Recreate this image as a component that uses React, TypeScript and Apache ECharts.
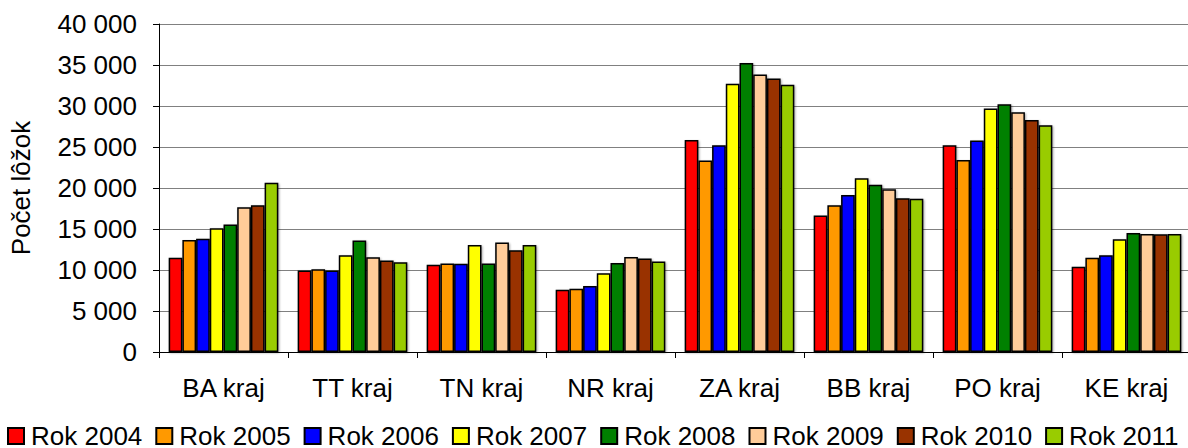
import React, { useEffect, useRef } from "react";
import * as echarts from "echarts";

const categories = ["BA kraj", "TT kraj", "TN kraj", "NR kraj", "ZA kraj", "BB kraj", "PO kraj", "KE kraj"];
const seriesNames = ["Rok 2004", "Rok 2005", "Rok 2006", "Rok 2007", "Rok 2008", "Rok 2009", "Rok 2010", "Rok 2011"];
const seriesColors = ["#FF0000", "#FF9900", "#0000FF", "#FFFF00", "#008000", "#FFCC99", "#993300", "#99CC00"];

const rok2004 = [11500, 9950, 10650, 7600, 25850, 16650, 25200, 10400];
const rok2005 = [13650, 10100, 10800, 7700, 23350, 17900, 23400, 11500];
const rok2006 = [13800, 9950, 10750, 8050, 25200, 19150, 25800, 11800];
const rok2007 = [15100, 11800, 13050, 9600, 32700, 21200, 29700, 13750];
const rok2008 = [15550, 13600, 10800, 10850, 35250, 20400, 30200, 14500];
const rok2009 = [17650, 11550, 13350, 11600, 33850, 19850, 29250, 14400];
const rok2010 = [17900, 11150, 12400, 11400, 33350, 18750, 28300, 14350];
const rok2011 = [20650, 10950, 13050, 11050, 32600, 18700, 27650, 14400];
const seriesValues = [rok2004, rok2005, rok2006, rok2007, rok2008, rok2009, rok2010, rok2011];

const yMin = 0;
const yMax = 40000;
const yInterval = 5000;
const yAxisTitle = "Počet lôžok";

const FONT = "'Liberation Sans', Arial, sans-serif";

function fmt(v: number): string {
  return String(v).replace(/\B(?=(\d{3})+(?!\d))/g, " ");
}

export default function App() {
  const ref = useRef<HTMLDivElement>(null);
  useEffect(() => {
    if (!ref.current) return;
    const chart = echarts.init(ref.current, null, { renderer: "svg" });
    chart.setOption({
      animation: false,
      backgroundColor: "#ffffff",
      textStyle: { fontFamily: FONT },
      grid: { left: 159, right: -3, top: 24, bottom: 96, containLabel: false, outerBoundsMode: "none" },
      legend: {
        left: 7,
        top: 423,
        width: 1200,
        padding: 0,
        itemWidth: 16,
        itemHeight: 16,
        itemGap: 13,
        icon: "rect",
        textStyle: { fontSize: 26, color: "#000", fontFamily: FONT, padding: [0, 0, 0, 2] },
        data: seriesNames,
      },
      xAxis: {
        type: "category",
        data: categories,
        axisLine: { lineStyle: { color: "#000", width: 1 } },
        axisTick: { show: true, alignWithLabel: false, length: 6, lineStyle: { color: "#000" } },
        axisLabel: { fontSize: 26, color: "#000", margin: 23, fontFamily: FONT },
      },
      yAxis: {
        type: "value",
        min: yMin,
        max: yMax,
        interval: yInterval,
        name: yAxisTitle,
        nameLocation: "middle",
        nameGap: 125,
        nameRotate: 90,
        nameTextStyle: { fontSize: 26, color: "#000", fontFamily: FONT },
        axisLine: { show: true, lineStyle: { color: "#000", width: 1 } },
        axisTick: { show: true, length: 6, lineStyle: { color: "#000" } },
        axisLabel: { fontSize: 26, color: "#000", margin: 22, fontFamily: FONT, formatter: (v: number) => fmt(v) },
        splitLine: { show: true, lineStyle: { color: "#808080", width: 1 } },
      },
      series: seriesNames.map((name, i) => ({
        name,
        type: "bar",
        data: seriesValues[i],
        barGap: "0%",
        barCategoryGap: "15%",
        itemStyle: {
          color: seriesColors[i],
          borderColor: "#000",
          borderWidth: 1.5,
          shadowColor: "rgba(0,0,0,0.35)",
          shadowBlur: 2,
          shadowOffsetX: 1,
          shadowOffsetY: 1,
        },
      })),
    });
    return () => chart.dispose();
  }, []);
  return (
    <div
      ref={ref}
      style={{ position: "fixed", left: 0, top: 0, width: 1188, height: 448 }}
    />
  );
}
